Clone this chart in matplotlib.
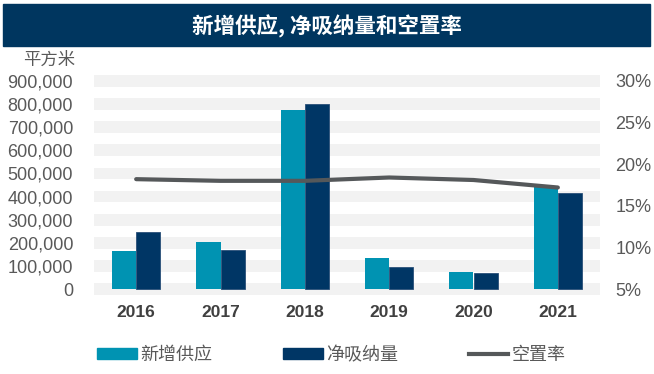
import numpy as np
import matplotlib.pyplot as plt
from matplotlib.patches import Patch, Rectangle
from matplotlib.lines import Line2D

plt.rcParams['font.family'] = ['Liberation Sans', 'Noto Sans CJK SC', 'DejaVu Sans']

years = ['2016', '2017', '2018', '2019', '2020', '2021']
new_supply = [166000, 203000, 775000, 133000, 75000, 443000]
net_absorption = [245000, 170000, 798000, 98000, 72000, 415000]
vacancy = [18.2, 18.0, 18.0, 18.4, 18.1, 17.2]

left_ticks = list(range(0, 900001, 100000))
right_ticks = [5, 10, 15, 20, 25, 30]

teal = '#0093B2'
navy = '#003665'
gray_line = '#55585A'
txt = '#595959'
cjk = ['Noto Sans CJK SC', 'DejaVu Sans']

fig = plt.figure(figsize=(6.54, 3.74), dpi=100)

# title bar
fig.patches.append(Rectangle((3 / 654, 1 - 46 / 374), 647 / 654, 42 / 374,
                             transform=fig.transFigure, color='#00365F', zorder=0))
fig.text(0.5, 1 - 26 / 374, '新增供应, 净吸纳量和空置率', ha='center', va='center',
         color='white', fontsize=15.5, fontweight='bold', family=cjk)

ax = fig.add_axes([94 / 654, 1 - 295 / 374, 506 / 654, (295 - 75) / 374])
ylo, yhi = -25000, 925000
ax.set_ylim(ylo, yhi)
ax.set_xlim(-0.5, len(years) - 0.5)

# striped background bands
for v in left_ticks:
    ax.axhspan(v - 25000, v + 25000, color='#F2F2F2', zorder=0, lw=0)

x = np.arange(len(years))
w = 0.285
ax.bar(x - w / 2, new_supply, w, color=teal, zorder=2)
ax.bar(x + w / 2, net_absorption, w, color=navy, zorder=2, edgecolor='#2A4F78', linewidth=0.6)

ax.set_yticks(left_ticks)
ax.set_yticklabels([f'{v:,}' for v in left_ticks])
ax.set_xticks(x)
ax.set_xticklabels(years, fontweight='bold')
ax.tick_params(axis='y', length=0, labelsize=13, colors=txt, pad=15)
ax.tick_params(axis='x', length=0, labelsize=12.5, colors='#404040', pad=7)
for s in ax.spines.values():
    s.set_visible(False)

ax2 = ax.twinx()
r0 = 5 + ylo / 900000 * 25
r1 = 5 + yhi / 900000 * 25
ax2.set_ylim(r0, r1)
ax2.plot(x, vacancy, color=gray_line, lw=3, zorder=3, solid_capstyle='round')
ax2.set_yticks(right_ticks)
ax2.set_yticklabels([f'{v}%' for v in right_ticks])
ax2.tick_params(axis='y', length=0, labelsize=13, colors=txt, pad=11)
for s in ax2.spines.values():
    s.set_visible(False)

fig.text(49 / 654, 1 - 60 / 374, '平方米', ha='center', va='center', fontsize=12.5,
         color=txt, family=cjk)

handles = [Patch(color=teal), Patch(color=navy), Line2D([], [], color=gray_line, lw=3)]
labels = ['新增供应', '净吸纳量', '空置率']
fig.legend(handles, labels, loc='center', bbox_to_anchor=(0.507, 1 - 355 / 374), ncol=3,
           frameon=False, handlelength=2.2, handleheight=0.6, handletextpad=0.2,
           columnspacing=3.9, labelcolor=txt, prop={'family': cjk, 'size': 13})

fig.savefig('out.png', dpi=100)
